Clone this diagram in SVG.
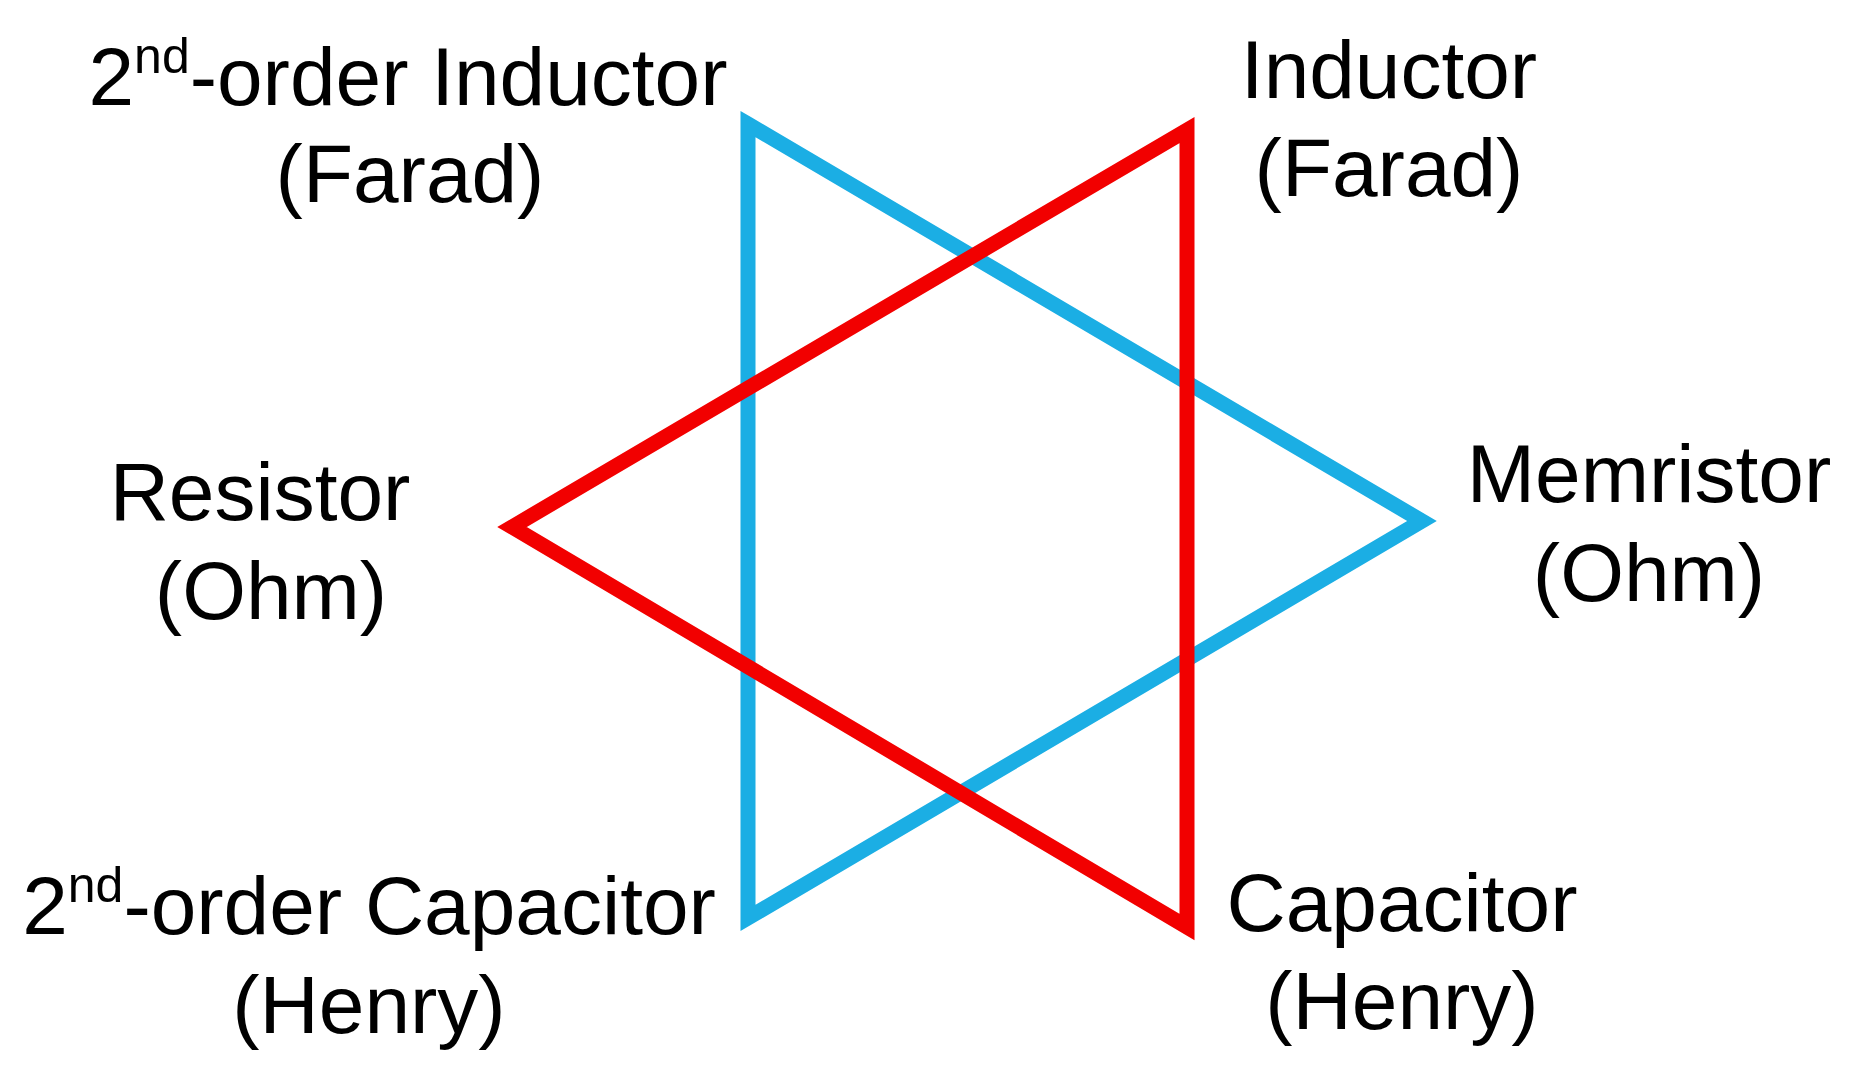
<svg xmlns="http://www.w3.org/2000/svg" width="1858" height="1077" viewBox="0 0 1858 1077">
<style>
text{font-family:"Liberation Sans",Arial,sans-serif;font-size:82px;fill:#000;text-anchor:middle}
.tri{fill:none;stroke-width:15;stroke-linejoin:miter}
.sup{font-size:50px}
</style>
<rect width="1858" height="1077" fill="#fff"/>
<g id="connectors">
<polygon class="tri" stroke="#1BAEE4" points="748,124 1422,521 748,918"/>
<polygon class="tri" stroke="#F20000" points="1187,130 1187,927 512,527"/>
</g>
<g id="n-2l"><text x="408" y="105">2<tspan class="sup" dy="-32">nd</tspan><tspan dy="32">-order Inductor</tspan></text><text x="410" y="202">(Farad)</text></g>
<g id="n-l"><text x="1389" y="98">Inductor</text><text x="1389" y="196">(Farad)</text></g>
<g id="n-r"><text x="260" y="520">Resistor</text><text x="271" y="619">(Ohm)</text></g>
<g id="n-m"><text x="1649" y="502">Memristor</text><text x="1649" y="601">(Ohm)</text></g>
<g id="n-2c"><text x="369" y="934">2<tspan class="sup" dy="-32">nd</tspan><tspan dy="32">-order Capacitor</tspan></text><text x="369" y="1033">(Henry)</text></g>
<g id="n-c"><text x="1402" y="931">Capacitor</text><text x="1402" y="1029">(Henry)</text></g>
</svg>
